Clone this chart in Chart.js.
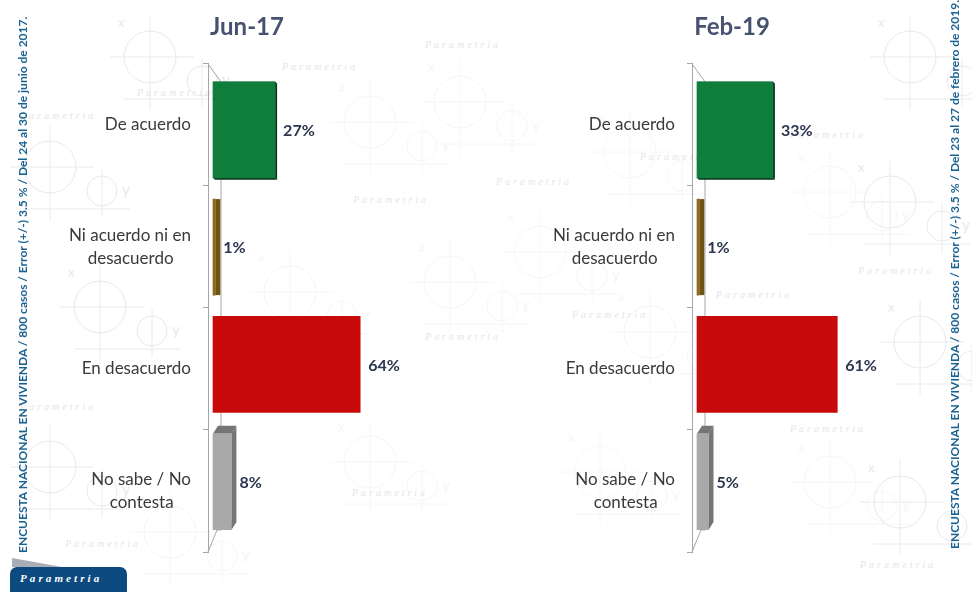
<!DOCTYPE html>
<html lang="es">
<head>
<meta charset="utf-8">
<title>Parametria</title>
<script src="https://cdn.jsdelivr.net/npm/chart.js@4"></script>
<style>
html,body{margin:0;padding:0;background:#fff;}
#page{position:relative;width:972px;height:592px;overflow:hidden;background:#fff;filter:blur(.6px);}
#wall{position:absolute;left:0;top:0;}
canvas{position:absolute;top:0;}
.side{position:absolute;white-space:nowrap;font:bold 12px Lato,sans-serif;color:#1c6291;transform-origin:0 0;transform:rotate(-90deg);}
#logo{position:absolute;left:10px;top:567px;width:117px;height:30px;background:#0d4a80;border-radius:7px 7px 0 0;color:#fff;font:italic bold 11px "Liberation Serif",serif;letter-spacing:3.1px;padding:5px 0 0 10px;box-sizing:border-box;}
#swoosh{position:absolute;left:12px;top:558px;width:0;height:0;border-top:9px solid transparent;border-left:50px solid #a9aeb4;}
</style>
</head>
<body>
<div id="page">
<svg id="wall" width="972" height="592" xmlns="http://www.w3.org/2000/svg">
  <defs>
    <g id="m" fill="none" stroke="currentColor" stroke-width="1">
      <circle cx="40" cy="42" r="26"/><circle cx="92" cy="66" r="15"/>
      <path d="M0 42H84M40 0V95M14 84H120M92 44V92"/>
      <text x="8" y="12" font-size="13" fill="currentColor" stroke="none" font-family="Lato">x</text>
      <text x="112" y="70" font-size="15" fill="currentColor" stroke="none" font-family="Lato">y</text>
    </g>
  </defs>
  <g style="color:#f5f6f7">
    <use href="#m" x="330" y="80"/><use href="#m" x="410" y="240"/><use href="#m" x="330" y="420"/>
    <use href="#m" x="590" y="110"/><use href="#m" x="500" y="210"/><use href="#m" x="610" y="290"/>
    <use href="#m" x="560" y="430"/><use href="#m" x="250" y="250"/><use href="#m" x="790" y="440"/>
    <use href="#m" x="130" y="490"/><use href="#m" x="790" y="150"/><use href="#m" x="420" y="60"/>
  </g>
  <g style="color:#e6eaed">
    <use href="#m" x="10" y="125"/><use href="#m" x="60" y="265"/><use href="#m" x="10" y="425"/>
    <use href="#m" x="110" y="15"/><use href="#m" x="870" y="15"/><use href="#m" x="880" y="300"/><use href="#m" x="850" y="160"/>
    <use href="#m" x="860" y="460"/>
  </g>
  <g font-family="Liberation Serif" font-style="italic" font-size="10" letter-spacing="3" fill="#e4e6e8">
    <text x="282" y="70">Parametria</text><text x="137" y="96">Parametria</text><text x="425" y="48">Parametria</text>
    <text x="353" y="203">Parametria</text><text x="496" y="185">Parametria</text><text x="425" y="340">Parametria</text>
    <text x="572" y="318">Parametria</text><text x="352" y="496">Parametria</text><text x="65" y="547">Parametria</text>
    <text x="790" y="432">Parametria</text><text x="860" y="568">Parametria</text><text x="858" y="274">Parametria</text>
    <text x="716" y="298">Parametria</text><text x="790" y="138">Parametria</text><text x="640" y="160">Parametria</text>
    <text x="20" y="410">Parametria</text><text x="20" y="119">Parametria</text>
  </g>
</svg>
<canvas id="c1" width="494" height="592" style="left:0"></canvas>
<canvas id="c2" width="496" height="592" style="left:484px"></canvas>
<div class="side" style="left:15px;top:553px;">ENCUESTA NACIONAL EN VIVIENDA / 800 casos / Error (+/-) 3.5 % / Del 24 al 30 de junio de 2017.</div>
<div class="side" style="left:947px;top:549px;">ENCUESTA NACIONAL EN VIVIENDA / 800 casos / Error (+/-) 3.5 % / Del 23 al 27 de febrero de 2019.</div>
<div id="swoosh"></div>
<div id="logo">Parametria</div>
</div>
<script>
const categories = [["De acuerdo"], ["Ni acuerdo ni en", "desacuerdo"], ["En desacuerdo"], ["No sabe / No", "contesta"]];
const jun17 = [27, 1, 64, 8];
const feb19 = [33, 1, 61, 5];
const barColors = ["#0f7d3c", "#8a6a1e", "#c90a0a", "#a9a9a9"];
const sideColors = ["#08351c", "#6f5314", "#a00808", "#757575"];
const depthX = [2, 5, 0, 5];
const depthY = [2, 0, 0, -8];
const titles = ["Jun-17", "Feb-19"];

const secondLinePad = ["", "\u00a0\u00a0\u00a0\u00a0", "", "\u00a0\u00a0\u00a0\u00a0"];

const bars3d = {
  id: "bars3d",
  beforeDatasetsDraw(chart) {
    const c = chart.ctx, a = chart.chartArea, back = a.left + 13;
    c.save();
    c.strokeStyle = "#a6a6a6"; c.lineWidth = 1;
    c.beginPath();
    c.moveTo(a.left, a.top); c.lineTo(back, a.top + 18); c.lineTo(back, a.bottom - 22);
    c.lineTo(a.left + 9, a.bottom - 22);
    c.moveTo(a.left + 9, a.bottom - 22); c.lineTo(a.left, a.bottom);
    c.stroke();
    chart.getDatasetMeta(0).data.forEach((el, i) => {
      const t = el.y - el.height / 2, b = el.y + el.height / 2, dx = depthX[i], dy = depthY[i];
      if (!dx) return;
      c.fillStyle = sideColors[i];
      [[[el.base, t], [el.base + dx, t + dy], [el.x + dx, t + dy], [el.x, t]],
       [[el.x, t], [el.x + dx, t + dy], [el.x + dx, b + dy], [el.x, b]],
       [[el.base, b], [el.base + dx, b + dy], [el.x + dx, b + dy], [el.x, b]]].forEach(p => {
        c.beginPath(); p.forEach((q, k) => k ? c.lineTo(q[0], q[1]) : c.moveTo(q[0], q[1])); c.closePath(); c.fill();
      });
    });
    c.restore();
  },
  afterDatasetsDraw(chart) {
    const c = chart.ctx, ds = chart.data.datasets[0];
    c.save();
    c.font = "bold 16px Lato, sans-serif"; c.fillStyle = "#2c3550";
    c.textAlign = "left"; c.textBaseline = "middle";
    chart.getDatasetMeta(0).data.forEach((el, i) => c.fillText(ds.data[i].x + "%", el.x + 8, el.y + 1));
    c.restore();
  }
};

function draw(id, title, values, xMax) {
  new Chart(document.getElementById(id), {
    type: "bar",
    plugins: [bars3d],
    data: {
      labels: categories,
      datasets: [{
        data: values.map((v, i) => ({ x: v, y: i })),
        backgroundColor: barColors,
        borderWidth: 0,
        barThickness: 96,
        xAxisID: "x",
        yAxisID: "yBars"
      }]
    },
    options: {
      indexAxis: "y",
      responsive: false,
      animation: false,
      events: [],
      layout: { padding: { top: 13, bottom: 40, left: 0, right: 0 } },
      plugins: {
        legend: { display: false },
        tooltip: { enabled: false },
        title: {
          display: true, text: title, align: "center", color: "#46526f",
          font: { family: "Lato, sans-serif", size: 24, weight: "bold" },
          padding: { top: 0, bottom: 22 }
        }
      },
      scales: {
        x: { type: "linear", display: false, min: -2.17, max: xMax },
        yBars: { type: "linear", axis: "y", display: false, reverse: true, offset: false, min: -0.563, max: 3.6 },
        y: {
          type: "category", position: "left", offset: true,
          afterFit(s) { s.width = 208; },
          border: { display: true, color: "#a6a6a6" },
          grid: { display: true, offset: true, drawOnChartArea: false, drawTicks: true, tickLength: 5, color: "#a6a6a6" },
          ticks: {
            autoSkip: false, padding: 12, color: "#3a3a3a",
            font: { family: "Lato, sans-serif", size: 17, lineHeight: 1.35 },
            callback(v, i) {
              const l = categories[i];
              return l.length > 1 ? [l[0], l[1] + secondLinePad[i]] : l[0];
            }
          }
        }
      }
    }
  });
}
draw("c1", titles[0], jun17, 122.17);
draw("c2", titles[1], feb19, 123.05);
</script>
</body>
</html>
